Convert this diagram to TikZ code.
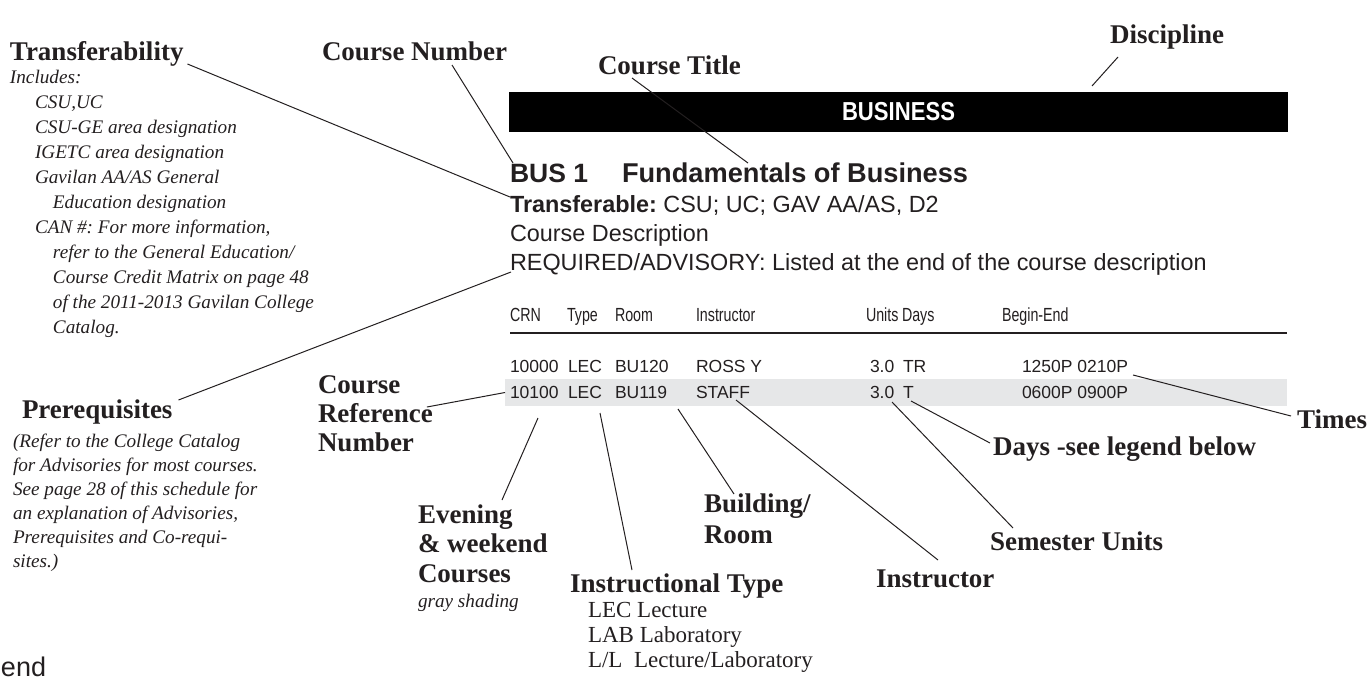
\documentclass[tikz,border=0pt]{standalone}
\usepackage{fontspec}
\setmainfont{Liberation Serif}
\newfontfamily\sansf{Liberation Sans}
\newfontfamily\condf[FakeStretch=0.75]{Liberation Sans}
\newfontfamily\bizf[FakeStretch=0.85]{Liberation Sans}
\usetikzlibrary{calc}
\definecolor{ink}{RGB}{35,31,32}
\definecolor{shadegray}{RGB}{230,231,232}
\frenchspacing
\begin{document}
\frenchspacing
\begin{tikzpicture}[x=0.5pt,y=-0.5pt,
  every node/.style={inner sep=0pt,outer sep=0pt,anchor=base west,text=ink},
  lab/.style={font=\fontsize{13.5}{16}\selectfont\bfseries},
  note/.style={font=\fontsize{9.6}{12}\selectfont\itshape},
  plainlab/.style={font=\fontsize{11.5}{14}\selectfont},
  body/.style={font=\sansf\fontsize{11.7}{14}\selectfont},
  heavy/.style={font=\sansf\fontsize{13.25}{16}\selectfont\bfseries},
  cell/.style={font=\sansf\fontsize{8.75}{10}\selectfont},
  head/.style={font=\condf\fontsize{9.5}{11}\selectfont},
  conn/.style={draw=ink,line width=0.5pt}]
\useasboundingbox (0,0) rectangle (1372,681);

% ---- left notes: transferability
\node[lab] (transf) at (10,60) {Transferability};
\node[note] (n0) at (10,83) {Includes:};
\node[note] (n1) at (35,108) {CSU,UC};
\node[note] (n2) at (35,133) {CSU-GE area designation};
\node[note] (n3) at (35,158) {IGETC area designation};
\node[note] (n4) at (35,183) {Gavilan AA/AS General};
\node[note] (n5) at (53,208) {Education designation};
\node[note] (n6) at (35,233) {CAN \#: For more information,};
\node[note] (n7) at (53,258) {refer to the General Education/};
\node[note] (n8) at (53,283) {Course Credit Matrix on page 48};
\node[note] (n9) at (53,308) {of the 2011-2013 Gavilan College};
\node[note] (n10) at (53,333) {Catalog.};

% ---- prerequisites
\node[lab] (prereq) at (22,418) {Prerequisites};
\node[note] (p1) at (13,447) {(Refer to the College Catalog};
\node[note] (p2) at (13,471) {for Advisories for most courses.};
\node[note] (p3) at (13,495) {See page 28 of this schedule for};
\node[note] (p4) at (13,519) {an explanation of Advisories,};
\node[note] (p5) at (13,543) {Prerequisites and Co-requi-};
\node[note] (p6) at (13,567) {sites.)};

% ---- top labels
\node[lab] (cnum) at (322,60) {Course Number};
\node[lab] (ctitle) at (598,74) {Course Title};
\node[lab] (disc) at (1110,43) {Discipline};

% ---- course block
\node[fill=black,anchor=north west,minimum width=389.5pt,minimum height=20pt,
      text=white,font=\bizf\fontsize{13}{15}\selectfont\bfseries] (bar) at (509,92) {BUSINESS};
\node[heavy] (busnum) at (510,182) {BUS 1};
\node[heavy,font=\sansf\fontsize{13.6}{16}\selectfont\bfseries] (bustitle) at (622,182) {Fundamentals of Business};
\node[body] (transferable) at (510,212) {\textbf{Transferable:} CSU; UC; GAV AA/AS, D2};
\node[body] (cdesc) at (510,241) {Course Description};
\node[body] (req) at (510,270) {REQUIRED/ADVISORY: Listed at the end of the course description};

% ---- table
\node[head] (hcrn) at (510,321) {CRN};
\node[head] (htype) at (567,321) {Type};
\node[head] (hroom) at (615,321) {Room};
\node[head] (hinstr) at (696,321) {Instructor};
\node[head] (hunits) at (866,321) {Units};
\node[head] (hdays) at (902,321) {Days};
\node[head] (htime) at (1002,321) {Begin-End};
\draw[draw=ink,line width=0.75pt] (510,333) -- (1287,333);

\node[fill=shadegray,anchor=north west,minimum width=391pt,minimum height=13.5pt] (shade) at (505,379) {};

\node[cell] (r1crn) at (510,372) {10000};
\node[cell] (r1type) at (568,372) {LEC};
\node[cell] (r1room) at (615,372) {BU120};
\node[cell] (r1instr) at (696,372) {ROSS Y};
\node[cell] (r1units) at (870,372) {3.0};
\node[cell] (r1days) at (903,372) {TR};
\node[cell] (r1time) at (1022,372) {1250P 0210P};

\node[cell] (r2crn) at (510,398) {10100};
\node[cell] (r2type) at (568,398) {LEC};
\node[cell] (r2room) at (615,398) {BU119};
\node[cell] (r2instr) at (696,398) {STAFF};
\node[cell] (r2units) at (870,398) {3.0};
\node[cell] (r2days) at (903,398) {T};
\node[cell] (r2time) at (1022,398) {0600P 0900P};

% ---- lower labels
\node[lab] (crefA) at (318,393) {Course};
\node[lab] (crefB) at (318,422) {Reference};
\node[lab] (crefC) at (318,451) {Number};
\node[lab] (times) at (1297,428) {Times};
\node[lab] (days) at (993,455) {Days -see legend below};
\node[lab] (semu) at (990,550) {Semester Units};
\node[lab] (instr) at (876,587) {Instructor};
\node[lab] (bldA) at (704,512) {Building/};
\node[lab] (bldB) at (704,543) {Room};
\node[lab] (eveA) at (418,523) {Evening};
\node[lab] (eveB) at (418,552) {\& weekend};
\node[lab] (eveC) at (418,582) {Courses};
\node[note] (eveD) at (418,607) {gray shading};
\node[lab] (itype) at (570,592) {Instructional Type};
\node[plainlab] (itA) at (588,617) {LEC Lecture};
\node[plainlab] (itB) at (588,642) {LAB Laboratory};
\node[plainlab] (itC) at (588,667) {L/L\ \ Lecture/Laboratory};

\node[font=\sansf\fontsize{13.5}{16}\selectfont] (legend) at (1,676) {end};

% ---- connectors
\draw[conn] ($(transf.base east)+(4,4)$) -- ($(transferable.base west)+(0,-15)$);
\draw[conn] ($(cnum.base west)+(130,5)$) -- ($(busnum.base west)+(3,-19)$);
\draw[conn] ($(ctitle.base west)+(34,4)$) -- ($(bustitle.base west)+(126,-19)$);
\draw[conn] ($(disc.base west)+(8,14)$) -- ($(bar.north west)+(583,-6)$);
\draw[conn] ($(prereq.base east)+(6,-18)$) -- ($(req.base west)+(1,2)$);
\draw[conn] ($(crefB.base east)+(-6,-15)$) -- (shade.west);
\draw[conn] ($(r2crn.base west)+(28,20)$) -- ($(eveA.base west)+(84,-23)$);
\draw[conn] ($(r2type.base west)+(32,15)$) -- ($(itype.base west)+(62,-22)$);
\draw[conn] ($(r2room.base west)+(63,11)$) -- ($(bldA.base west)+(30,-18)$);
\draw[conn] ($(r2instr.base west)+(40,2)$) -- ($(instr.base west)+(62,-27)$);
\draw[conn] ($(r2units.base west)+(22,4)$) -- ($(semu.base west)+(23,-22)$);
\draw[conn] ($(r2days.base west)+(8,3)$) -- ($(days.base west)+(-3,-12)$);
\draw[conn] ($(r1time.base east)+(5,3)$) -- ($(times.base west)+(-6,-12)$);
\end{tikzpicture}
\end{document}
